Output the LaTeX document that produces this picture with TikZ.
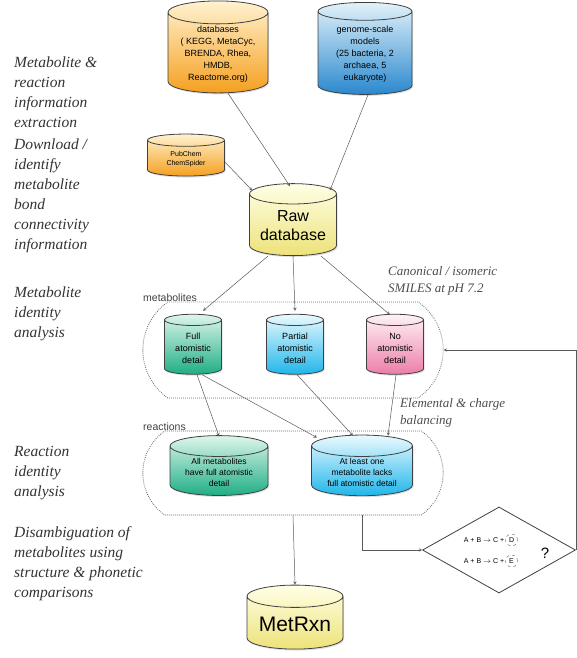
\documentclass[tikz,border=0pt]{standalone}
\usepackage{fontspec}
\setmainfont{Liberation Serif}
\setsansfont{Liberation Sans}
\usetikzlibrary{shapes,arrows,positioning,shadows}

\definecolor{orgtop}{HTML}{FFF2D0}
\definecolor{orgbot}{HTML}{F5A020}
\definecolor{blutop}{HTML}{E2F2FA}
\definecolor{blubot}{HTML}{2A88CE}
\definecolor{yeltop}{HTML}{FFFFE6}
\definecolor{yelbot}{HTML}{EDE27A}
\definecolor{grntop}{HTML}{DDF6EA}
\definecolor{grnbot}{HTML}{1FAE86}
\definecolor{cyntop}{HTML}{EAFAFF}
\definecolor{cynbot}{HTML}{20B6EA}
\definecolor{pnktop}{HTML}{FFF2F6}
\definecolor{pnkbot}{HTML}{EC7EA8}

\begin{document}
\begin{tikzpicture}[x=1pt, y=-1pt, >=stealth,
    dbase/.style={cylinder, shape border rotate=90, aspect=0.3, draw=black!75,
      thick, align=center, font=\sffamily, inner sep=1pt,
      drop shadow={opacity=0.25, shadow xshift=1pt, shadow yshift=-1.5pt}},
    note/.style={font=\itshape\fontsize{15.5}{20}\selectfont, align=left,
      anchor=north west, inner sep=0pt, text=black!80},
    small note/.style={font=\itshape\fontsize{13}{17}\selectfont, align=left,
      anchor=north west, inner sep=0pt, text=black!70},
    group/.style={rounded rectangle, rounded rectangle arc length=110,
      draw=black!60, line width=0.8pt, dash pattern=on 0.8pt off 1.2pt},
    link/.style={->, draw=black!65, line width=0.5pt},
    tag/.style={font=\sffamily\fontsize{10.5}{12}\selectfont, text=black!75, inner sep=0pt},
    blank/.style={circle, draw=black!60, dashed, inner sep=0.5pt, minimum size=12pt,
      font=\sffamily\fontsize{7}{8}\selectfont}]

  \useasboundingbox (0,0) rectangle (576,658);

  % Stages
  \node[note] (s1) at (14,57) {Metabolite \&\\reaction\\information\\extraction};
  \node[note] (s2) at (14,139) {Download /\\identify\\metabolite\\bond\\connectivity\\information};
  \node[note] (s3) at (14,287) {Metabolite\\identity\\analysis};
  \node[note] (s4) at (14,446) {Reaction\\identity\\analysis};
  \node[note] (s5) at (14,526) {Disambiguation of\\metabolites using\\structure \& phonetic\\comparisons};

  % Sources
  \node[dbase, top color=orgtop, bottom color=orgbot, minimum width=100pt, minimum height=92pt,
    font=\sffamily\fontsize{9}{12}\selectfont] (db) at (218,54)
    {databases\\( KEGG, MetaCyc,\\BRENDA, Rhea,\\HMDB,\\Reactome.org)};
  \node[dbase, top color=blutop, bottom color=blubot, minimum width=94pt, minimum height=92pt,
    font=\sffamily\fontsize{9}{12}\selectfont] (gsm) at (365,54)
    {genome-scale\\models\\(25 bacteria, 2\\archaea, 5\\eukaryote)};
  \node[dbase, top color=orgtop, bottom color=orgbot, minimum width=77pt, minimum height=42pt,
    font=\sffamily\fontsize{7}{9}\selectfont] (pub) at (186,159) {PubChem\\ChemSpider};

  % Raw database
  \node[dbase, top color=yeltop, bottom color=yelbot, minimum width=87pt, minimum height=72pt,
    font=\sffamily\fontsize{16}{19}\selectfont] (raw) at (293,226) {Raw\\database};

  % Metabolites
  \node[group, minimum width=307pt, minimum height=96pt] (mgrp) at (293,350) {};
  \node[tag, anchor=south west] (mlab) at (143,302) {metabolites};
  \node[dbase, top color=grntop, bottom color=grnbot, minimum width=57pt, minimum height=60pt,
    font=\sffamily\fontsize{9}{12}\selectfont] (full) at (193,348) {Full\\atomistic\\detail};
  \node[dbase, top color=cyntop, bottom color=cynbot, minimum width=57pt, minimum height=60pt,
    font=\sffamily\fontsize{9}{12}\selectfont] (part) at (295,348) {Partial\\atomistic\\detail};
  \node[dbase, top color=pnktop, bottom color=pnkbot, minimum width=57pt, minimum height=60pt,
    font=\sffamily\fontsize{9}{12}\selectfont] (none) at (395,348) {No\\atomistic\\detail};
  \node[small note] (smi) at (388,266) {Canonical / isomeric\\SMILES at pH 7.2};

  % Reactions
  \node[group, minimum width=307pt, minimum height=84pt] (rgrp) at (293,473) {};
  \node[tag, anchor=south west] (rlab) at (143,431) {reactions};
  \node[dbase, top color=grntop, bottom color=grnbot, minimum width=98pt, minimum height=54pt,
    font=\sffamily\fontsize{8.5}{11}\selectfont] (allm) at (219,472)
    {All metabolites\\have full atomistic\\detail};
  \node[dbase, top color=cyntop, bottom color=cynbot, minimum width=101pt, minimum height=54pt,
    font=\sffamily\fontsize{8.5}{11}\selectfont] (atl) at (362,472)
    {At least one\\metabolite lacks\\full atomistic detail};
  \node[small note] (bal) at (400,398) {Elemental \& charge\\balancing};

  % Disambiguation
  \node[diamond, draw=black!75, thick, aspect=1.75, minimum width=153pt, minimum height=86pt,
    fill=white] (dec) at (499,550) {};
  \node[font=\sffamily\fontsize{7}{8}\selectfont, inner sep=0pt] (eqa) at (484,540)
    {A + B $\rightarrow$ C +};
  \node[blank, right=1pt of eqa] (dd) {D};
  \node[font=\sffamily\fontsize{7}{8}\selectfont, inner sep=0pt] (eqb) at (484,561)
    {A + B $\rightarrow$ C +};
  \node[blank, right=1pt of eqb] (ee) {E};
  \node[font=\sffamily\fontsize{15}{16}\selectfont, inner sep=0pt] (qm) at (545,553) {?};

  % Result
  \node[dbase, top color=yeltop, bottom color=yelbot, minimum width=96pt, minimum height=64pt,
    font=\sffamily\fontsize{21}{24}\selectfont] (mrx) at (295,624) {MetRxn};

  % Arrows
  \draw[link] ([xshift=10pt]db.south) -- ([xshift=-3pt,yshift=-3pt]raw.north);
  \draw[link] ([xshift=3pt]gsm.south) -- ([xshift=37pt,yshift=-7pt]raw.north);
  \draw[link] ([yshift=-3pt]pub.east) -- ([xshift=-41pt,yshift=-7pt]raw.north);

  \draw[link] ([xshift=-25pt]raw.south) -- ([xshift=10pt,yshift=3pt]full.north);
  \draw[link] (raw.south) -- ([yshift=3pt]part.north);
  \draw[link] ([xshift=28pt]raw.south) -- ([xshift=-5pt,yshift=-1pt]none.north);

  \draw[link] ([xshift=4pt]full.south) -- ([yshift=-1pt]allm.north);
  \draw[link] ([xshift=9pt]full.south) -- ([xshift=-45pt,yshift=-3pt]atl.north);
  \draw[link] ([xshift=2pt]part.south) -- ([xshift=-9pt,yshift=-1pt]atl.north);
  \draw[link] ([xshift=1pt]none.south) -- ([xshift=26pt,yshift=-1pt]atl.north);

  \draw[link] (rgrp.south) -- (mrx.north);
  \draw[link] (atl |- rgrp.south) |- (dec.west);
  \draw[link] (dec.east) |- (mgrp.east);

\end{tikzpicture}
\end{document}
